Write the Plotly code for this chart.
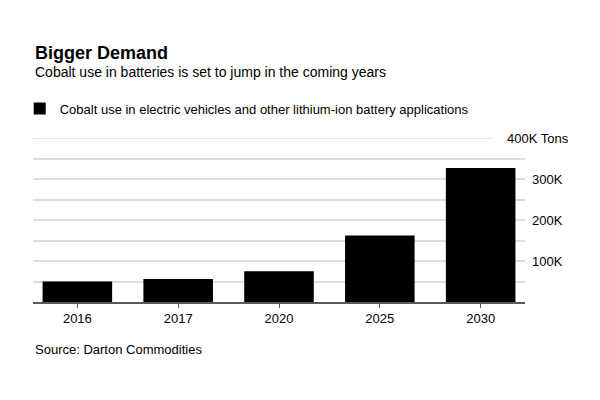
import plotly.graph_objects as go

years = ["2016", "2017", "2020", "2025", "2030"]
cobalt_tons = [50000, 56000, 75000, 162000, 327000]
grid_vals = [0, 50000, 100000, 150000, 200000, 250000, 300000, 350000]
grid_text = ["", "", "100K", "", "200K", "", "300K", ""]
top_val = 400000
top_text = "400K Tons"
series_name = "Cobalt use in electric vehicles and other lithium-ion battery applications"

font_family = "Liberation Sans, Arial, sans-serif"

fig = go.Figure()
fig.add_trace(go.Bar(x=years, y=cobalt_tons, name=series_name,
                     marker=dict(color="#000000", line=dict(width=0)),
                     showlegend=True))

# page body adds an 8px offset, margins are set with that in mind
fig.update_layout(
    width=600, height=400,
    margin=dict(l=25, r=83, t=130, b=106, autoexpand=False),
    paper_bgcolor="white", plot_bgcolor="white",
    font=dict(family=font_family, size=13, color="#000000"),
    bargap=0.31,
    showlegend=True,
    legend=dict(x=-0.027, y=1.179, xanchor="left", yanchor="middle",
                orientation="h", font=dict(size=13), itemwidth=30,
                bgcolor="rgba(0,0,0,0)"),
)

fig.update_xaxes(type="category", range=[-0.44, 4.44], showgrid=False,
                 showline=True, linecolor="#5a5a5a", linewidth=1.5,
                 ticks="outside", ticklen=4, tickwidth=1, tickcolor="#5a5a5a",
                 tickfont=dict(size=13), fixedrange=True)
fig.update_yaxes(side="right", range=[0, top_val], tickmode="array",
                 tickvals=grid_vals, ticktext=grid_text,
                 showgrid=True, gridcolor="#dcdcdc", gridwidth=1.5,
                 zeroline=False, ticks="", ticklabelstandoff=6,
                 tickfont=dict(size=13), fixedrange=True)

# top gridline is shorter to leave room for the unit label
fig.add_shape(type="line", xref="paper", yref="y", x0=0, x1=0.934,
              y0=top_val, y1=top_val, line=dict(color="#dcdcdc", width=1.5))
fig.add_annotation(xref="paper", yref="y", x=0.934, y=top_val, xshift=12,
                   text=top_text, showarrow=False, xanchor="left",
                   yanchor="middle", font=dict(size=13))

fig.add_annotation(xref="paper", yref="paper", x=0, y=1.52, text="<b>Bigger Demand</b>",
                   showarrow=False, xanchor="left", yanchor="middle",
                   font=dict(size=18))
fig.add_annotation(xref="paper", yref="paper", x=0, y=1.40,
                   text="Cobalt use in batteries is set to jump in the coming years",
                   showarrow=False, xanchor="left", yanchor="middle",
                   font=dict(size=14))
fig.add_annotation(xref="paper", yref="paper", x=0, y=-0.289,
                   text="Source: Darton Commodities",
                   showarrow=False, xanchor="left", yanchor="middle",
                   font=dict(size=13))

fig.write_html("out.html")
